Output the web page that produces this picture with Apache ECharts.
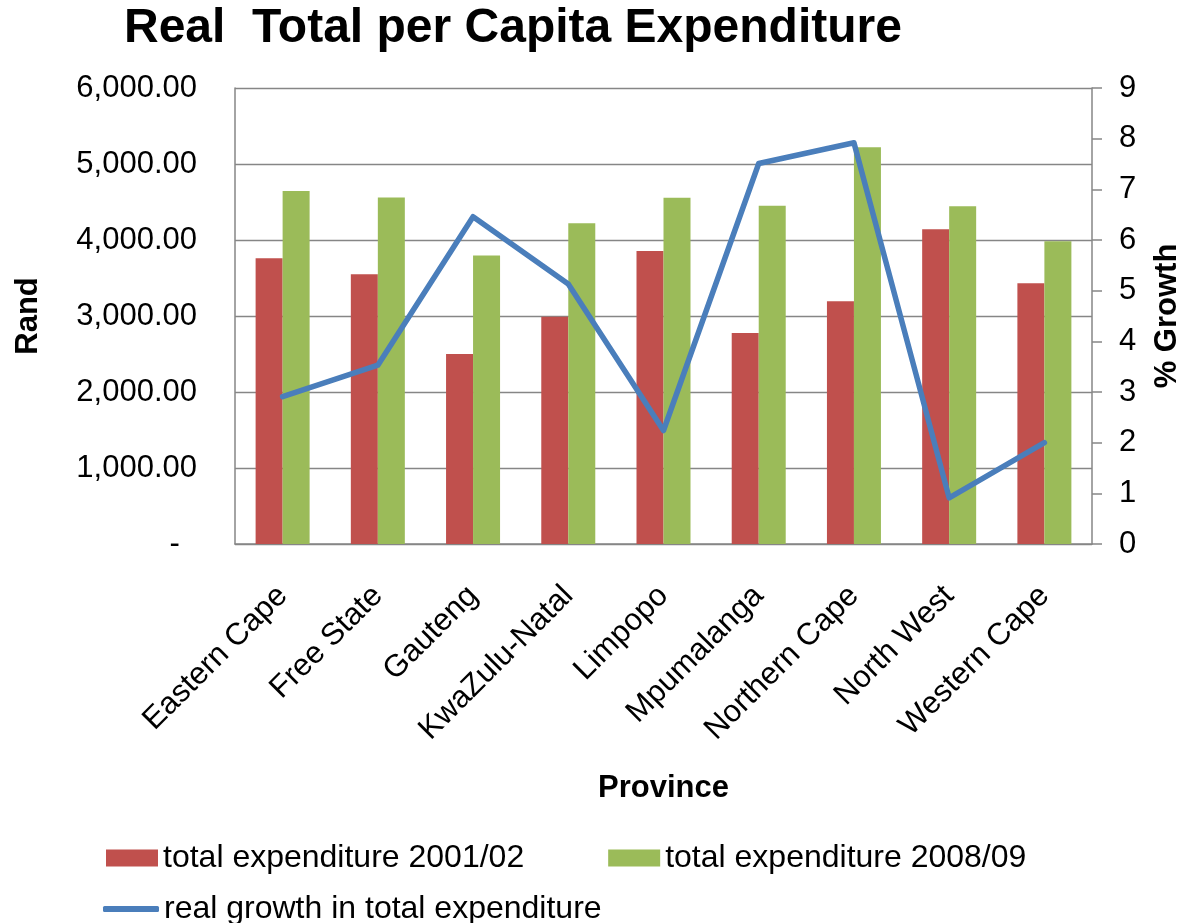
<!DOCTYPE html>
<html>
<head>
<meta charset="utf-8">
<title>Real Total per Capita Expenditure</title>
<script src="https://cdn.jsdelivr.net/npm/echarts@6/dist/echarts.min.js"></script>
<style>
  html, body { margin: 0; padding: 0; background: #ffffff; }
  #chart { width: 1191px; height: 923px; }
</style>
</head>
<body>
<div id="chart"></div>
<script>
// Provinces on the category axis
var provinces = ['Eastern Cape', 'Free State', 'Gauteng', 'KwaZulu-Natal', 'Limpopo',
                 'Mpumalanga', 'Northern Cape', 'North West', 'Western Cape'];

// Real per capita expenditure, Rand
var expenditure2001 = [3760, 3550, 2500, 2990, 3855, 2775, 3195, 4140, 3430];
var expenditure2008 = [4645, 4560, 3795, 4220, 4555, 4450, 5220, 4445, 3985];

// Real growth in total expenditure, %
var realGrowth = [2.91, 3.53, 6.46, 5.13, 2.24, 7.51, 7.92, 0.91, 2.00];

// Tick labels of the Rand axis (0 .. 6000 step 1000)
var randTickLabels = ['-  ', '1,000.00', '2,000.00', '3,000.00', '4,000.00', '5,000.00', '6,000.00'];

var FONT = '"Liberation Sans", Arial, sans-serif';
var GRID_GRAY = '#868686';

var chart = echarts.init(document.getElementById('chart'), null, { renderer: 'canvas' });

chart.setOption({
  backgroundColor: '#ffffff',
  animation: false,
  textStyle: { fontFamily: FONT, color: '#000000' },
  title: {
    text: 'Real  Total per Capita Expenditure',
    left: 124,
    top: 5,
    padding: 0,
    textStyle: { fontFamily: FONT, fontSize: 48, fontWeight: 'bold', color: '#000000' }
  },
  legend: [
    {
      data: [
        { name: 'total expenditure 2001/02', icon: 'rect' },
        { name: 'total expenditure 2008/09', icon: 'rect' }
      ],
      left: 106,
      top: 842,
      padding: 0,
      itemWidth: 52,
      itemHeight: 17,
      itemGap: 84,
      textStyle: { fontFamily: FONT, fontSize: 32, color: '#000000' }
    },
    {
      data: [{ name: 'real growth in total expenditure', icon: 'roundRect' }],
      left: 103,
      top: 893,
      padding: 0,
      itemWidth: 56,
      itemHeight: 6,
      textStyle: { fontFamily: FONT, fontSize: 32, color: '#000000' }
    }
  ],
  grid: { left: 235, right: 97, top: 88, bottom: 379, containLabel: false },
  xAxis: {
    type: 'category',
    data: provinces,
    name: 'Province',
    nameLocation: 'middle',
    nameGap: 229,
    nameTextStyle: { fontFamily: FONT, fontSize: 31, fontWeight: 'bold', color: '#000000' },
    axisLine: { show: true, lineStyle: { color: GRID_GRAY, width: 1.5 } },
    axisTick: { show: false },
    axisLabel: {
      interval: 0,
      rotate: 45,
      margin: 47,
      fontFamily: FONT,
      fontSize: 31,
      color: '#000000'
    }
  },
  yAxis: [
    {
      type: 'value',
      min: 0,
      max: 6000,
      interval: 1000,
      name: 'Rand',
      nameLocation: 'middle',
      nameGap: 191,
      nameTextStyle: { fontFamily: FONT, fontSize: 31, fontWeight: 'bold', color: '#000000' },
      axisLine: { show: true, lineStyle: { color: GRID_GRAY, width: 1.5 } },
      axisTick: { show: false },
      splitLine: { show: true, lineStyle: { color: GRID_GRAY, width: 1.3 } },
      axisLabel: {
        margin: 38,
        fontFamily: FONT,
        fontSize: 31,
        color: '#000000',
        formatter: function (v) { return randTickLabels[Math.round(v / 1000)]; }
      }
    },
    {
      type: 'value',
      min: 0,
      max: 9,
      interval: 1,
      position: 'right',
      name: '% Growth',
      nameLocation: 'middle',
      nameGap: 60,
      nameTextStyle: { fontFamily: FONT, fontSize: 31, fontWeight: 'bold', color: '#000000' },
      nameRotate: 90,
      axisLine: { show: true, lineStyle: { color: GRID_GRAY, width: 1.5 } },
      axisTick: { show: true, inside: false, length: 10, lineStyle: { color: GRID_GRAY, width: 1.5 } },
      splitLine: { show: false },
      axisLabel: {
        margin: 27,
        fontFamily: FONT,
        fontSize: 31,
        color: '#000000'
      }
    }
  ],
  series: [
    {
      name: 'total expenditure 2001/02',
      type: 'bar',
      yAxisIndex: 0,
      data: expenditure2001,
      barWidth: 27,
      barGap: '0%',
      itemStyle: { color: '#C0504D' }
    },
    {
      name: 'total expenditure 2008/09',
      type: 'bar',
      yAxisIndex: 0,
      data: expenditure2008,
      barWidth: 27,
      barGap: '0%',
      itemStyle: { color: '#9BBB59' }
    },
    {
      name: 'real growth in total expenditure',
      type: 'line',
      yAxisIndex: 1,
      data: realGrowth,
      symbol: 'none',
      smooth: false,
      z: 5,
      lineStyle: { color: '#4A7EBB', width: 5.5, cap: 'round', join: 'round' },
      itemStyle: { color: '#4A7EBB' }
    }
  ]
});
</script>
</body>
</html>
